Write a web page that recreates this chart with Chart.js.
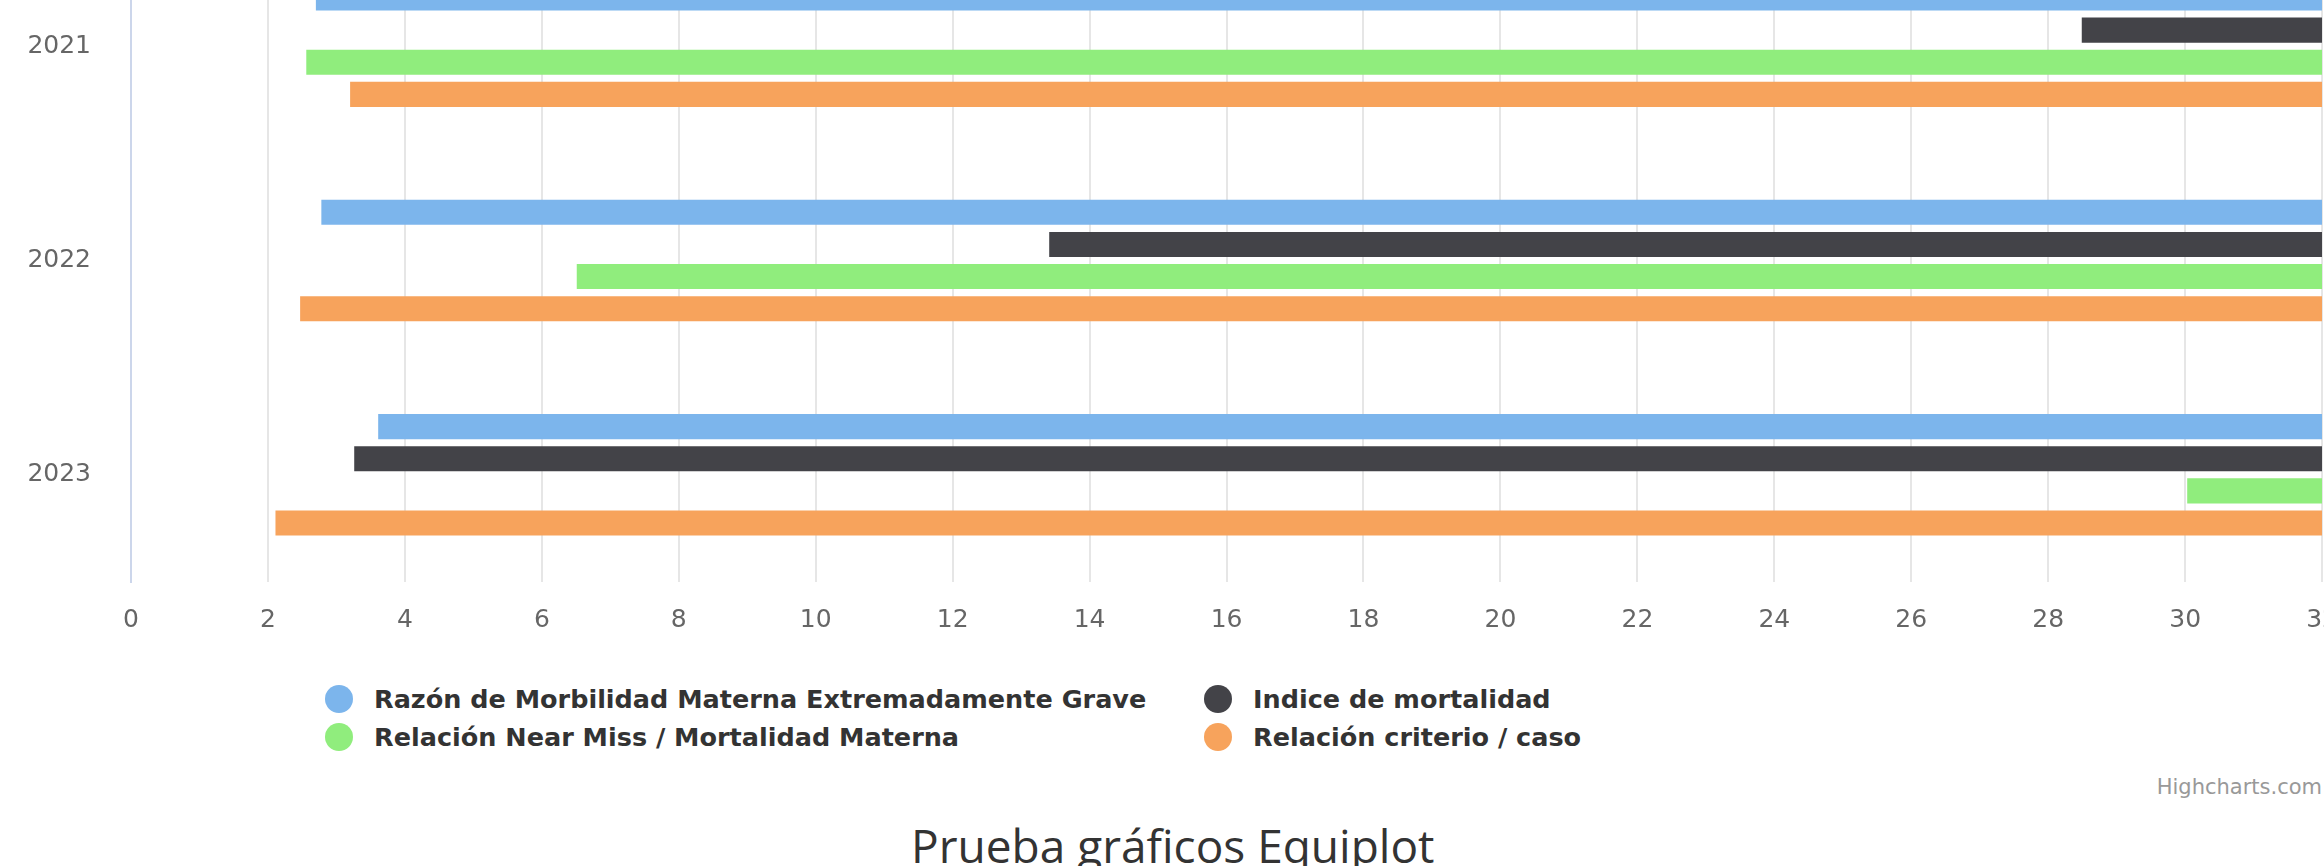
<!DOCTYPE html>
<html>
<head>
<meta charset="utf-8">
<script src="https://cdn.jsdelivr.net/npm/chart.js@4/dist/chart.umd.min.js"></script>
<style>
  html, body { margin: 0; padding: 0; background: #fff; overflow: hidden; width: 2324px; height: 866px; }
  #chartWrap { position: absolute; left: 0; top: -76px; width: 2338px; height: 738px; }
  .legend-dot { position: absolute; width: 28px; height: 28px; border-radius: 50%; }
  .legend-text { position: absolute; font: bold 25.5px "DejaVu Sans", sans-serif; line-height: 30px; color: #333; white-space: nowrap; }
  #credits { position: absolute; right: 2px; top: 775px; font: 21px "DejaVu Sans", sans-serif; line-height: 24px; color: #999; }
  #title { position: absolute; left: 911px; top: 822px; font: 400 46px "Open Sans", sans-serif; line-height: 46px; color: #333; white-space: nowrap; }
</style>
</head>
<body>
<div id="chartWrap"><canvas id="equiplotChart"></canvas></div>
<div id="legend"></div>
<div id="credits">Highcharts.com</div>
<div id="title">Prueba gráficos Equiplot</div>
<script>
// categories
const years = ['2021', '2022', '2023'];

// series names and colours
const seriesNames = [
    'Razón de Morbilidad Materna Extremadamente Grave',
    'Indice de mortalidad',
    'Relación Near Miss / Mortalidad Materna',
    'Relación criterio / caso'
];
const seriesColors = ['#7cb5ec', '#434348', '#90ed7d', '#f7a35c'];

// bar start / end values per year (bars run off to the right edge of the axis)
const razonStart = [2.70, 2.78, 3.61];
const razonEnd = [32, 32, 32];
const indiceStart = [28.49, 13.41, 3.26];
const indiceEnd = [32, 32, 32];
const nearMissStart = [2.56, 6.51, 30.03];
const nearMissEnd = [32, 32, 32];
const criterioStart = [3.20, 2.47, 2.11];
const criterioEnd = [32, 32, 32];

// value axis
const axisMin = 0;
const axisMax = 32;
const axisStep = 2;

const starts = [razonStart, indiceStart, nearMissStart, criterioStart];
const ends = [razonEnd, indiceEnd, nearMissEnd, criterioEnd];

const tickFont = { family: 'DejaVu Sans', size: 25 };

const ctx = document.getElementById('equiplotChart').getContext('2d');

const equiplotChart = new Chart(ctx, {
    type: 'bar',
    data: {
        labels: years,
        datasets: seriesNames.map((name, s) => ({
            label: name,
            data: years.map((y, i) => [starts[s][i], ends[s][i]]),
            backgroundColor: seriesColors[s],
            borderWidth: 0,
            categoryPercentage: 0.6,
            barPercentage: 0.78
        }))
    },
    options: {
        indexAxis: 'y',
        animation: false,
        responsive: true,
        maintainAspectRatio: false,
        layout: { padding: 0 },
        plugins: {
            legend: { display: false },
            tooltip: { enabled: false }
        },
        scales: {
            x: {
                min: axisMin,
                max: axisMax,
                ticks: { stepSize: axisStep, padding: 0, color: '#666', font: tickFont, maxRotation: 0 },
                grid: { color: '#e6e6e6', lineWidth: 2, tickLength: 23, tickColor: 'transparent' },
                border: { display: false },
                afterFit: (scale) => { scale.height = 80; }
            },
            y: {
                ticks: { padding: 0, color: '#666', font: tickFont },
                grid: { drawOnChartArea: false, tickLength: 40, tickColor: 'transparent' },
                border: { display: true, color: '#ccd6eb', width: 2 },
                afterFit: (scale) => { scale.width = 131; }
            }
        }
    }
});

// legend in two columns, like the original
const legendSpots = [[325, 684], [1204, 684], [325, 722], [1204, 722]];
const legend = document.getElementById('legend');
seriesNames.forEach((name, s) => {
    const [x, y] = legendSpots[s];
    const dot = document.createElement('div');
    dot.className = 'legend-dot';
    dot.style.left = x + 'px';
    dot.style.top = (y + 1) + 'px';
    dot.style.background = seriesColors[s];
    legend.appendChild(dot);
    const txt = document.createElement('div');
    txt.className = 'legend-text';
    txt.style.left = (x + 49) + 'px';
    txt.style.top = y + 'px';
    txt.textContent = name;
    legend.appendChild(txt);
});
</script>
</body>
</html>
